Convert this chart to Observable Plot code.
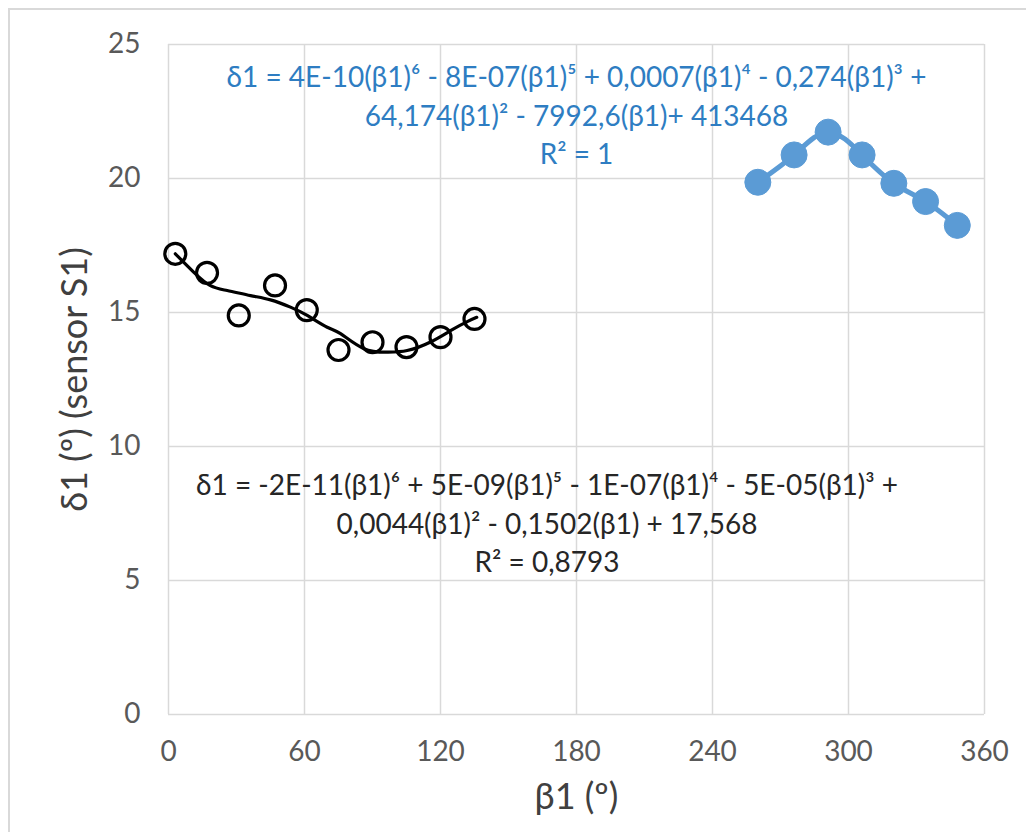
<!DOCTYPE html>
<html>
<head>
<meta charset="utf-8">
<script src="https://cdn.jsdelivr.net/npm/d3@7"></script>
<script src="https://cdn.jsdelivr.net/npm/@observablehq/plot@0.6"></script>
<style>
  html, body { margin: 0; padding: 0; background: #fff; }
  #wrap { position: relative; width: 1026px; height: 832px; overflow: hidden; }
  #border { position: absolute; left: 8px; top: 8px; width: 1100px; height: 900px;
            border-left: 2px solid #d9d9d9; border-top: 2px solid #d9d9d9; pointer-events: none; }
</style>
</head>
<body>
<div id="wrap"><div id="border"></div></div>
<script>
// Sensor S1 measurements, series 1 (black, hollow circles)
const blackX = [3, 17, 31, 47, 61, 75, 90, 105, 120, 135];
const blackY = [17.19, 16.48, 14.89, 16.01, 15.09, 13.60, 13.89, 13.71, 14.08, 14.76];
// polynomial trendline of series 1
const blackTrendX = [3, 11.2, 18.5, 25.9, 36.2, 45.0, 53.8, 61.2, 70.0, 75.9, 86.2, 96.5, 105.3, 115.6, 125, 131.8, 136];
const blackTrendY = [17.19, 16.50, 16.0, 15.82, 15.63, 15.47, 15.20, 14.89, 14.45, 14.21, 13.65, 13.52, 13.58, 13.9, 14.35, 14.66, 14.82];
// series 2 (blue, filled circles)
const blueX = [260, 276, 291, 306, 320, 334, 348];
const blueY = [19.86, 20.88, 21.73, 20.88, 19.82, 19.14, 18.25];
// axis ticks
const xTicks = [0, 60, 120, 180, 240, 300, 360];
const yTicks = [0, 5, 10, 15, 20, 25];
// labels
const blueEquation = "δ1 = 4E-10(β1)⁶ - 8E-07(β1)⁵ + 0,0007(β1)⁴ - 0,274(β1)³ +\n64,174(β1)² - 7992,6(β1)+ 413468\nR² = 1";
const blackEquation = "δ1 = -2E-11(β1)⁶ + 5E-09(β1)⁵ - 1E-07(β1)⁴ - 5E-05(β1)³ +\n0,0044(β1)² - 0,1502(β1) + 17,568\nR² = 0,8793";
const xTitle = "β1 (º)";
const yTitle = "δ1 (º) (sensor S1)";

const black = blackX.map((x, i) => ({x, y: blackY[i]}));
const blackTrend = blackTrendX.map((x, i) => ({x, y: blackTrendY[i]}));
const blue = blueX.map((x, i) => ({x, y: blueY[i]}));

const chart = Plot.plot({
  width: 1026,
  height: 832,
  marginLeft: 168,
  marginRight: 42,
  marginTop: 44,
  marginBottom: 118,
  style: {fontFamily: "Lato, 'Open Sans', sans-serif", color: "#595959", background: "transparent"},
  x: {domain: [0, 360]},
  y: {domain: [0, 25]},
  marks: [
    Plot.gridX(xTicks, {stroke: "#d9d9d9", strokeOpacity: 1, strokeWidth: 1.5}),
    Plot.gridY(yTicks, {stroke: "#d9d9d9", strokeOpacity: 1, strokeWidth: 1.5}),
    Plot.axisX(xTicks, {tickSize: 0, tickPadding: 27, fontSize: 28, label: null, fill: "#595959"}),
    Plot.axisY(yTicks, {tickSize: 0, tickPadding: 28, fontSize: 28, label: null, fill: "#595959"}),
    Plot.line(blackTrend, {x: "x", y: "y", stroke: "#000", strokeWidth: 3.2, curve: "natural"}),
    Plot.dot(black, {x: "x", y: "y", r: 10.5, stroke: "#000", strokeWidth: 3.2, fill: "none"}),
    Plot.line(blue, {x: "x", y: "y", stroke: "#5b9bd5", strokeWidth: 5, curve: "natural"}),
    Plot.dot(blue, {x: "x", y: "y", r: 13, fill: "#5b9bd5", stroke: "#5b9bd5", strokeWidth: 1}),
    Plot.text([blueEquation], {x: 180, y: 22.43, fontSize: 28, lineHeight: 1.37, fill: "#2e7dc2", textAnchor: "middle"}),
    Plot.text([blackEquation], {x: 167, y: 7.2, fontSize: 28, lineHeight: 1.37, fill: "#262626", textAnchor: "middle"}),
    Plot.text([xTitle], {frameAnchor: "bottom", dy: 83, lineAnchor: "middle", textAnchor: "middle", fontSize: 36, fill: "#404040"}),
    Plot.text([yTitle], {frameAnchor: "left", dx: -93, rotate: -90, lineAnchor: "middle", textAnchor: "middle", fontSize: 36, fill: "#404040"})
  ]
});
document.getElementById("wrap").prepend(chart);
chart.style.position = "absolute";
chart.style.left = "0px";
chart.style.top = "0px";
</script>
</body>
</html>
